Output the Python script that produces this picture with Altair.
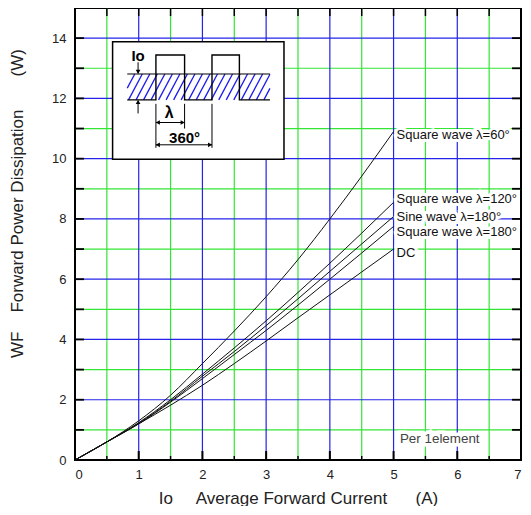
import altair as alt
import pandas as pd

# ---------------- data ----------------
IO_A = [0, 0.5, 1, 1.5, 2, 2.5, 3, 3.5, 4, 4.5, 5]
SQ60 = [0, 0.6, 1.3, 2.15, 3.2, 4.28, 5.42, 6.65, 8.0, 9.42, 10.9]
SQ120 = [0, 0.6, 1.24, 2.0, 2.85, 3.72, 4.62, 5.56, 6.53, 7.53, 8.55]
SINE180 = [0, 0.6, 1.22, 1.95, 2.78, 3.6, 4.46, 5.35, 6.26, 7.17, 8.08]
SQ180 = [0, 0.6, 1.2, 1.92, 2.7, 3.5, 4.3, 5.14, 6.0, 6.87, 7.75]
DC = [0, 0.6, 1.2, 1.82, 2.48, 3.2, 3.95, 4.72, 5.48, 6.24, 7.0]

SERIES = ["Square wave λ=60°", "Square wave λ=120°", "Sine wave λ=180°",
          "Square wave λ=180°", "DC"]
SERIES_VALUES = [SQ60, SQ120, SINE180, SQ180, DC]
LABEL_X = [5, 5, 5, 5, 5]
LABEL_Y = [10.78, 8.65, 8.08, 7.58, 6.87]

X_TICKS = [0, 1, 2, 3, 4, 5, 6, 7]
Y_TICKS = [0, 2, 4, 6, 8, 10, 12, 14]
X_MAJOR = [1, 2, 3, 4, 5, 6]
X_MINOR = [0.5, 1.5, 2.5, 3.5, 4.5, 5.5, 6.5]
Y_MAJOR = [2, 4, 6, 8, 10, 12, 14]
Y_MINOR = [1, 3, 5, 7, 9, 11, 13]

NOTE_TEXT = ["Per 1element"]
NOTE_X = [5.1]
NOTE_Y = [0.7]

# inset diagram (data units)
BOX_X = [0.59, 3.28]
BOX_Y = [9.98, 13.88]
BAND_X = [0.82, 3.06]
BAND_Y = [11.95, 12.81]
WAVE_X = [0.82, 1.27, 1.27, 1.72, 1.72, 2.15, 2.15, 2.58, 2.58, 3.06]
WAVE_Y = [11.95, 11.95, 13.44, 13.44, 11.95, 11.95, 13.44, 13.44, 11.95, 11.95]
DIM_X1 = [0.99, 0.99, 1.27, 1.72, 2.15, 1.27, 1.27, 0.82]
DIM_Y1 = [13.2, 11.5, 11.82, 11.82, 11.82, 11.2, 10.46, 12.81]
DIM_X2 = [0.99, 0.99, 1.27, 1.72, 2.15, 1.72, 2.15, 3.06]
DIM_Y2 = [12.84, 11.92, 10.36, 11.0, 10.36, 11.2, 10.46, 12.81]
HEAD_X = [0.99, 0.99, 1.30, 1.69, 1.30, 2.12]
HEAD_Y = [12.88, 11.88, 11.2, 11.2, 10.46, 10.46]
HEAD_SHAPE = ["triangle-down", "triangle-up", "triangle-left", "triangle-right",
              "triangle-left", "triangle-right"]
INSET_TEXT = ["Io", "λ", "360°"]
INSET_TX = [0.99, 1.48, 1.72]
INSET_TY = [13.4, 11.52, 10.7]
INSET_TSIZE = [15, 16, 15]

HATCH_RUN = 0.216
HATCH_STEP = 0.118

# ---------------- build tables ----------------
W, H = 446, 452
FONT = "Liberation Sans"
NB = "\u00a0"

rows = []
for name, ys in zip(SERIES, SERIES_VALUES):
    for xv, yv in zip(IO_A, ys):
        rows.append({"series": name, "x": xv, "y": yv})
curves_df = pd.DataFrame(rows)
labels_df = pd.DataFrame({"x": LABEL_X, "y": LABEL_Y, "text": SERIES})
note_df = pd.DataFrame({"x": NOTE_X, "y": NOTE_Y, "text": NOTE_TEXT})

# hatch segments clipped to the band
hatch = []
s = BAND_X[0] - HATCH_RUN
while s < BAND_X[1]:
    xa, ya, xb, yb = s, BAND_Y[0], s + HATCH_RUN, BAND_Y[1]
    if xa < BAND_X[0]:
        t = (BAND_X[0] - s) / HATCH_RUN
        xa, ya = BAND_X[0], BAND_Y[0] + t * (BAND_Y[1] - BAND_Y[0])
    if xb > BAND_X[1]:
        t = (BAND_X[1] - s) / HATCH_RUN
        xb, yb = BAND_X[1], BAND_Y[0] + t * (BAND_Y[1] - BAND_Y[0])
    hatch.append({"x": xa, "y": ya, "x2": xb, "y2": yb})
    s += HATCH_STEP
hatch_df = pd.DataFrame(hatch)

xscale = alt.Scale(domain=[0, 7], nice=False, zero=False)
yscale = alt.Scale(domain=[0, 15], nice=False, zero=False)

XTITLE = "Io" + NB * 4 + " Average Forward Current" + NB * 5 + " (A)"
YTITLE = "WF" + NB * 3 + " Forward Power Dissipation" + NB * 6 + " (W)"

xaxis = alt.Axis(values=X_TICKS, ticks=False, domain=False, grid=False, format="d",
                 labelFont=FONT, labelFontSize=13, labelColor="#222", labelPadding=8,
                 titleFont=FONT, titleFontSize=17, titleFontWeight="normal",
                 titleColor="#222", titlePadding=9)
yaxis = alt.Axis(values=Y_TICKS, ticks=False, domain=False, grid=False, format="d",
                 labelFont=FONT, labelFontSize=13, labelColor="#222", labelPadding=9,
                 titleFont=FONT, titleFontSize=17, titleFontWeight="normal",
                 titleColor="#222", titlePadding=25, titleY=195)


def X(f):
    return alt.X(f, type="quantitative", scale=xscale, axis=xaxis, title=XTITLE)


def Y(f):
    return alt.Y(f, type="quantitative", scale=yscale, axis=yaxis, title=YTITLE)


def vdf(vals):
    return pd.DataFrame({"v": vals})


# grid
green_v = alt.Chart(vdf(X_MINOR)).mark_rule(color="#33e633", strokeWidth=1.2).encode(x=X("v"))
green_h = alt.Chart(vdf(Y_MINOR)).mark_rule(color="#33e633", strokeWidth=1.2).encode(y=Y("v"))
blue_v = alt.Chart(vdf(X_MAJOR)).mark_rule(color="#2424e8", strokeWidth=1.2).encode(x=X("v"))
blue_h = alt.Chart(vdf(Y_MAJOR)).mark_rule(color="#2424e8", strokeWidth=1.2).encode(y=Y("v"))

# inset
box_df = pd.DataFrame({"x": [BOX_X[0]], "x2": [BOX_X[1]], "y": [BOX_Y[0]], "y2": [BOX_Y[1]]})
box = alt.Chart(box_df).mark_rect(fill="white", stroke="black", strokeWidth=1.5).encode(
    x=X("x"), x2="x2", y=Y("y"), y2="y2")
hatch_layer = alt.Chart(hatch_df).mark_rule(color="#1a1af0", strokeWidth=1.3).encode(
    x=X("x"), x2="x2", y=Y("y"), y2="y2")
wave_df = pd.DataFrame({"x": WAVE_X, "y": WAVE_Y, "o": list(range(len(WAVE_X)))})
wave = alt.Chart(wave_df).mark_line(color="black", strokeWidth=1.4).encode(
    x=X("x"), y=Y("y"), order="o:Q")
dim_df = pd.DataFrame({"x": DIM_X1, "y": DIM_Y1, "x2": DIM_X2, "y2": DIM_Y2})
dims = alt.Chart(dim_df).mark_rule(color="black", strokeWidth=1).encode(
    x=X("x"), x2="x2", y=Y("y"), y2="y2")
head_df = pd.DataFrame({"x": HEAD_X, "y": HEAD_Y, "shape": HEAD_SHAPE})
heads = alt.Chart(head_df).mark_point(filled=True, color="black", size=22, opacity=1).encode(
    x=X("x"), y=Y("y"), shape=alt.Shape("shape:N", scale=None))
itext_df = pd.DataFrame({"x": INSET_TX, "y": INSET_TY, "text": INSET_TEXT, "s": INSET_TSIZE})
itext = alt.Chart(itext_df).mark_text(font=FONT, fontWeight="bold", color="black",
                                      align="center", baseline="middle").encode(
    x=X("x"), y=Y("y"), text="text:N", size=alt.Size("s:Q", scale=None))

# curves and labels
LABEL_SIZE = 13
curves = alt.Chart(curves_df).mark_line(color="#111", strokeWidth=1,
                                        interpolate="monotone").encode(
    x=X("x"), y=Y("y"), detail="series:N")
lab_bg = alt.Chart(labels_df).mark_text(font=FONT, align="left", baseline="middle",
                                        dx=3, stroke="white", strokeWidth=6,
                                        fill="white").encode(
    x=X("x"), y=Y("y"), text="text:N", size=alt.value(LABEL_SIZE))
lab = alt.Chart(labels_df).mark_text(font=FONT, align="left", baseline="middle",
                                     dx=3, color="#111").encode(
    x=X("x"), y=Y("y"), text="text:N", size=alt.value(LABEL_SIZE))
note_bg = alt.Chart(note_df).mark_text(font=FONT, align="left", baseline="middle",
                                       stroke="white", strokeWidth=7,
                                       fill="white").encode(
    x=X("x"), y=Y("y"), text="text:N", size=alt.value(13.4))
note = alt.Chart(note_df).mark_text(font=FONT, align="left", baseline="middle",
                                    color="#444").encode(
    x=X("x"), y=Y("y"), text="text:N", size=alt.value(13.4))

# inward ticks
tick_bot_major = alt.Chart(vdf(X_TICKS)).mark_rule(color="black", strokeWidth=2).encode(
    x=X("v"), y=alt.value(H), y2=alt.value(H - 9))
tick_bot_minor = alt.Chart(vdf(X_MINOR)).mark_rule(color="black", strokeWidth=1.5).encode(
    x=X("v"), y=alt.value(H), y2=alt.value(H - 4))
tick_top = alt.Chart(vdf(X_MAJOR + X_MINOR)).mark_rule(color="black", strokeWidth=1.5).encode(
    x=X("v"), y=alt.value(0), y2=alt.value(8))
tick_left = alt.Chart(vdf(Y_MAJOR + Y_MINOR)).mark_rule(color="black", strokeWidth=1.8).encode(
    y=Y("v"), x=alt.value(0), x2=alt.value(9))
tick_right = alt.Chart(vdf(Y_MAJOR + Y_MINOR)).mark_rule(color="black", strokeWidth=1.8).encode(
    y=Y("v"), x=alt.value(W), x2=alt.value(W - 9))

chart = alt.layer(
    green_v, green_h, blue_v, blue_h,
    box, hatch_layer, wave, dims, heads, itext,
    curves, lab_bg, lab, note_bg, note,
    tick_bot_major, tick_bot_minor, tick_top, tick_left, tick_right,
).properties(
    width=W, height=H, background="white",
    autosize=alt.AutoSizeParams(type="none"),
    padding={"left": 67, "top": 0, "right": 2, "bottom": 46},
).configure_view(stroke="black", strokeWidth=2)

chart.save("out.html", embed_options={"renderer": "svg", "actions": False})
